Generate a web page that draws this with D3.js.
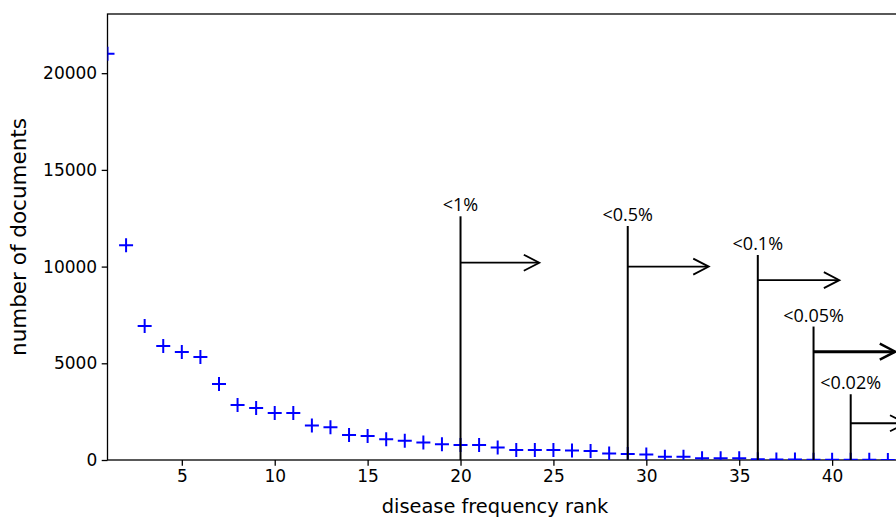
<!DOCTYPE html>
<html>
<head>
<meta charset="utf-8">
<script src="https://cdn.jsdelivr.net/npm/d3@7"></script>
<style>
  html, body { margin: 0; padding: 0; background: #fff; }
  svg { display: block; }
</style>
</head>
<body>
<svg id="chart" width="896" height="520"></svg>
<script>
// ---- data ----
const ranks = d3.range(1, 45);
const documents = [
  21000, 11100, 6930, 5900, 5580, 5330, 3930, 2850, 2690, 2430,
  2430, 1780, 1690, 1290, 1240, 1070, 1000, 900, 810, 780,
  780, 640, 520, 520, 520, 490, 470, 340, 310, 290,
  170, 170, 90, 90, 90, 35, 25, 20, 15, 12,
  10, 8, 6, 5
];
const xTicks = [5, 10, 15, 20, 25, 30, 35, 40];
const yTicks = [0, 5000, 10000, 15000, 20000];
// threshold annotations: label, rank where the threshold starts, top of marker line, arrow level, arrow length (ranks)
const thresholdLabels = ["<1%", "<0.5%", "<0.1%", "<0.05%", "<0.02%"];
const thresholdRanks  = [20, 29, 36, 39, 41];
const thresholdTops   = [12600, 12100, 10600, 6900, 3400];
const thresholdArrowY = [10200, 10000, 9300, 5600, 1900];
const arrowLengths    = [4.24, 4.36, 4.39, 4.4, 2.95];

// ---- layout ----
const svg = d3.select("#chart");
const plotLeft = 107.5, plotTop = 14, plotBottom = 460;
const unit = 18.58;
const xMax = 46;
const plotRight = plotLeft + (xMax - 1) * unit;
const x = d3.scaleLinear().domain([1, xMax]).range([plotLeft, plotRight]);
const y = d3.scaleLinear().domain([0, 23060]).range([plotBottom, plotTop]);

// frame
svg.append("rect")
  .attr("x", plotLeft).attr("y", plotTop)
  .attr("width", plotRight - plotLeft).attr("height", plotBottom - plotTop)
  .attr("fill", "none").attr("stroke", "#000").attr("stroke-width", 1.3);

// axes
const xAxis = d3.axisBottom(x).tickValues(xTicks).tickSize(5.8).tickPadding(4.5).tickFormat(d3.format("d"));
const yAxis = d3.axisLeft(y).tickValues(yTicks).tickSize(5.8).tickPadding(4.5).tickFormat(d3.format("d"));

const gx = svg.append("g").attr("transform", `translate(0,${plotBottom})`).call(xAxis);
const gy = svg.append("g").attr("transform", `translate(${plotLeft},0)`).call(yAxis);
[gx, gy].forEach(g => {
  g.select(".domain").remove();
  g.selectAll(".tick line").attr("stroke", "#000").attr("stroke-width", 1.3);
  g.selectAll(".tick text").attr("fill", "#000")
    .style("font-family", "DejaVu Sans").style("font-size", "17px");
});

// axis labels
svg.append("text")
  .attr("x", 495).attr("y", 513)
  .attr("text-anchor", "middle")
  .style("font-family", "DejaVu Sans").style("font-size", "19.4px")
  .text("disease frequency rank");
svg.append("text")
  .attr("transform", `translate(26,237) rotate(-90)`)
  .attr("text-anchor", "middle")
  .style("font-family", "DejaVu Sans").style("font-size", "21.5px")
  .text("number of documents");

// clip
svg.append("clipPath").attr("id", "clip")
  .append("rect").attr("x", plotLeft).attr("y", plotTop)
  .attr("width", plotRight - plotLeft).attr("height", plotBottom - plotTop);

// markers
const pts = svg.append("g").attr("clip-path", "url(#clip)");
const s = 7;
pts.selectAll("path.pt")
  .data(ranks.map((r, i) => [r, documents[i]]))
  .join("path")
  .attr("class", "pt")
  .attr("d", d => {
    const cx = x(d[0]), cy = y(d[1]);
    return `M${cx - s},${cy}H${cx + s}M${cx},${cy - s}V${cy + s}`;
  })
  .attr("stroke", "#0000ff").attr("stroke-width", 2).attr("fill", "none");

// threshold annotations
const ann = svg.append("g");
thresholdRanks.forEach((r, i) => {
  const lx = x(r);
  ann.append("line")
    .attr("x1", lx).attr("x2", lx)
    .attr("y1", y(thresholdTops[i])).attr("y2", y(0))
    .attr("stroke", "#000").attr("stroke-width", 2);
  const ay = y(thresholdArrowY[i]);
  const tipX = x(r + arrowLengths[i]);
  const sw = i === 3 ? 3 : 1.8;
  ann.append("line")
    .attr("x1", lx).attr("x2", tipX - 1)
    .attr("y1", ay).attr("y2", ay)
    .attr("stroke", "#000").attr("stroke-width", sw);
  ann.append("path")
    .attr("d", `M${tipX - 15.5},${ay - 8}L${tipX},${ay}L${tipX - 15.5},${ay + 8}`)
    .attr("fill", "none").attr("stroke", "#000").attr("stroke-width", i === 3 ? 2.4 : 1.8);
  ann.append("text")
    .attr("x", lx).attr("y", y(thresholdTops[i]) - 5)
    .attr("text-anchor", "middle")
    .style("font-family", "Open Sans").style("font-size", "18px")
    .text(thresholdLabels[i]);
});
</script>
</body>
</html>
